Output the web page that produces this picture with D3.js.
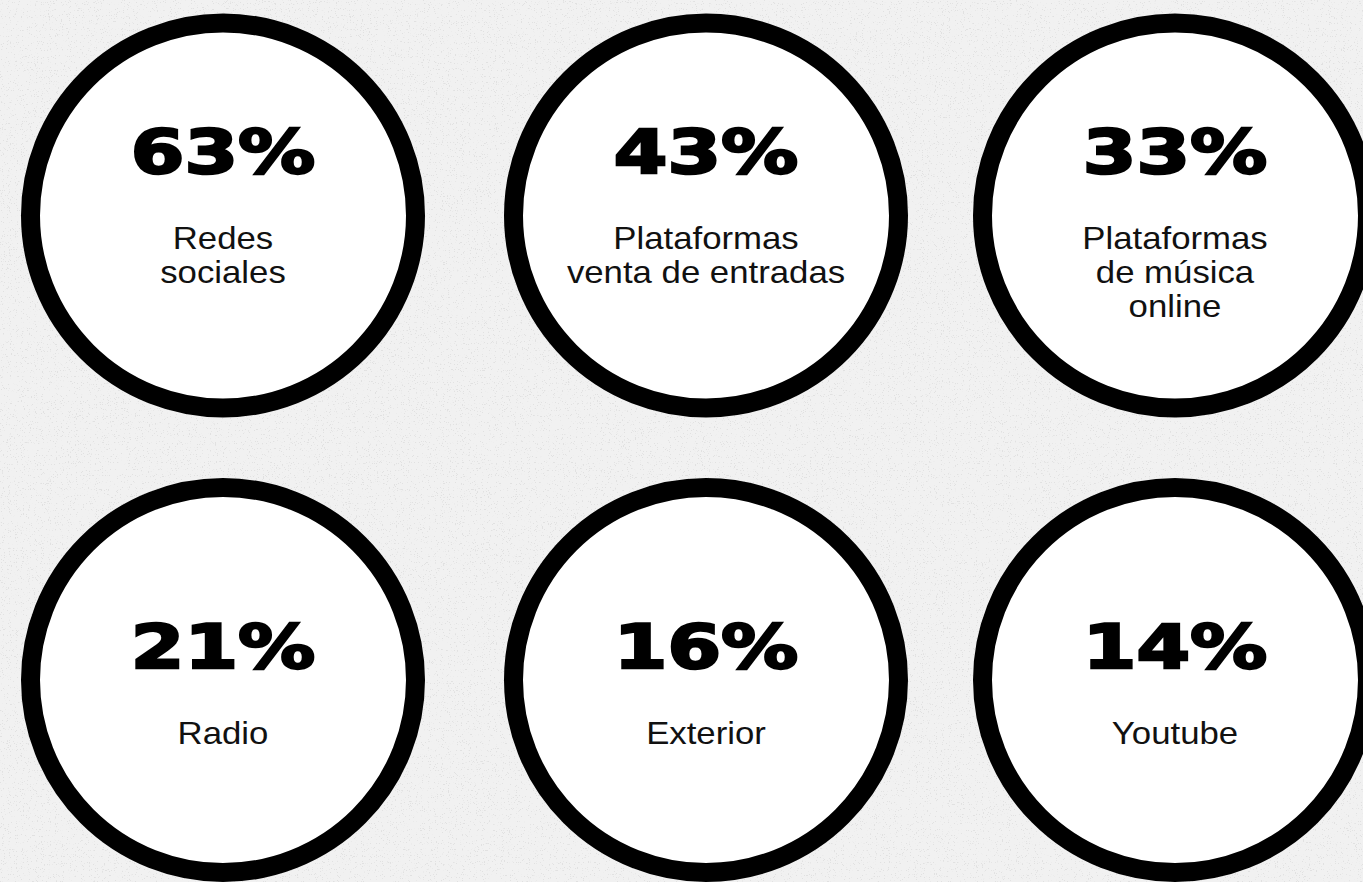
<!DOCTYPE html>
<html>
<head>
<meta charset="utf-8">
<script src="https://cdn.jsdelivr.net/npm/d3@7"></script>
<style>
  html, body { margin: 0; padding: 0; background: #f1f1f1; overflow: hidden; }
  svg { display: block; }
</style>
</head>
<body>
<script>
// ---- data ----
const categories = ["Redes sociales", "Plataformas venta de entradas", "Plataformas de música online", "Radio", "Exterior", "Youtube"];
const labelLines = [["Redes", "sociales"], ["Plataformas", "venta de entradas"], ["Plataformas", "de música", "online"], ["Radio"], ["Exterior"], ["Youtube"]];
const values = [63, 43, 33, 21, 16, 14];

// ---- layout ----
const W = 1363, H = 882;
const colX = d3.scaleOrdinal().domain([0, 1, 2]).range([223, 706, 1175]);
const rowY = d3.scaleOrdinal().domain([0, 1]).range([215.5, 680]);
const numBaseOffset = d3.scaleOrdinal().domain([0, 1]).range([-42, -11]);
const R = 192.5, STROKE = 19;
const LABEL_GAP = 75, LINE_H = 34.5;

const svg = d3.select("body").append("svg").attr("width", W).attr("height", H);

// subtle paper grain background
const defs = svg.append("defs");
const f = defs.append("filter").attr("id", "grain").attr("x", 0).attr("y", 0).attr("width", "100%").attr("height", "100%");
f.append("feTurbulence").attr("type", "fractalNoise").attr("baseFrequency", 0.85).attr("numOctaves", 2).attr("seed", 7).attr("result", "n");
f.append("feColorMatrix").attr("in", "n").attr("type", "matrix")
  .attr("values", "0 0 0 0 0.55  0 0 0 0 0.55  0 0 0 0 0.55  0 0 0 14 -9.2")
  .attr("result", "specks");

svg.append("rect").attr("width", W).attr("height", H).attr("fill", "#f1f1f1");
svg.append("rect").attr("width", W).attr("height", H).attr("fill", "#f1f1f1").attr("filter", "url(#grain)").attr("opacity", 0.35);

const data = values.map((v, i) => ({ v, lines: labelLines[i], name: categories[i], col: i % 3, row: Math.floor(i / 3) }));

const g = svg.selectAll("g.item").data(data).join("g")
  .attr("class", "item")
  .attr("transform", d => `translate(${colX(d.col)},${rowY(d.row)})`);

g.append("circle")
  .attr("r", R)
  .attr("fill", "#ffffff")
  .attr("stroke", "#000000")
  .attr("stroke-width", STROKE);

g.append("g")
  .attr("transform", d => `translate(0,${numBaseOffset(d.row) - 1}) scale(1.285,1)`)
  .append("text")
  .attr("text-anchor", "middle")
  .attr("font-family", "DejaVu Sans")
  .attr("font-weight", "bold")
  .attr("font-size", 60)
  .attr("fill", "#000")
  .attr("stroke", "#000")
  .attr("stroke-width", 2.4)
  .attr("stroke-linejoin", "miter")
  .text(d => d.v + "%");

const lab = g.append("g")
  .attr("transform", d => `translate(0,${numBaseOffset(d.row) + LABEL_GAP}) scale(1.14,1)`)
  .append("text")
  .attr("text-anchor", "middle")
  .attr("font-family", "Liberation Sans, Arial, sans-serif")
  .attr("font-size", 30.5)
  .attr("fill", "#111");

lab.selectAll("tspan").data(d => d.lines).join("tspan")
  .attr("x", 0)
  .attr("y", (d, i) => i * LINE_H)
  .text(d => d);
</script>
</body>
</html>
